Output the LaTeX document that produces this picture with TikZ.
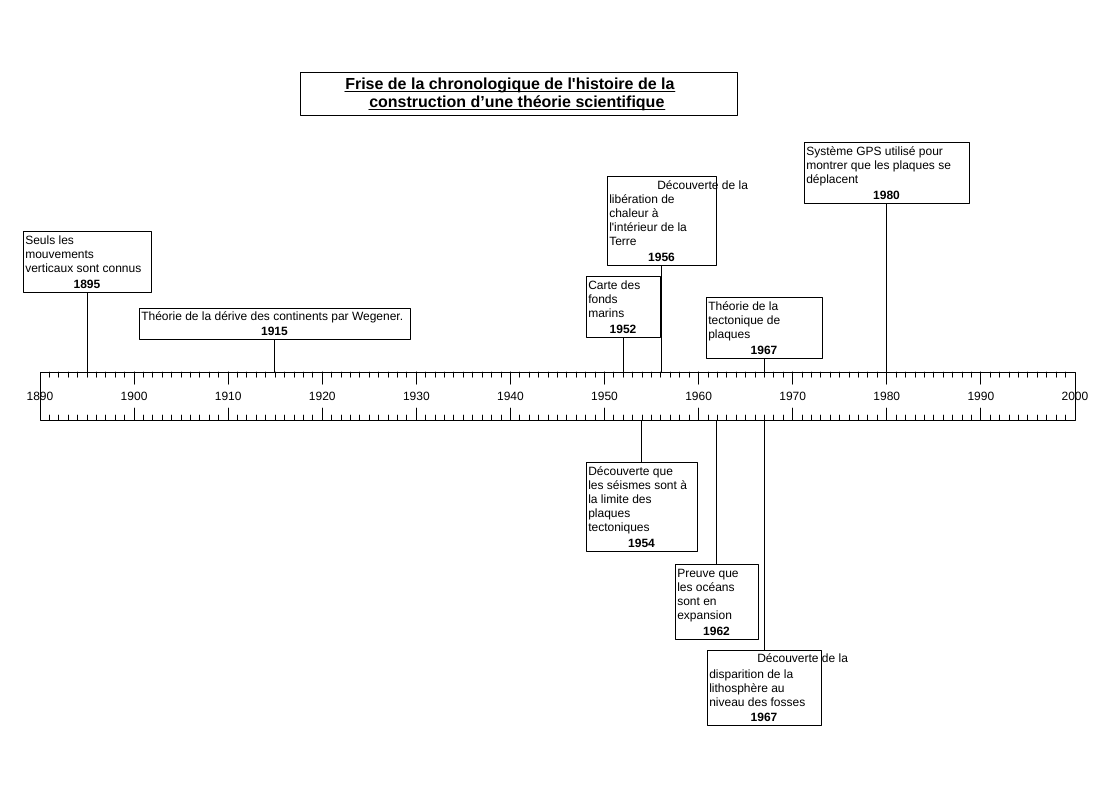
\documentclass[tikz,border=0pt]{standalone}
\usepackage{fontspec}
\setmainfont{Liberation Sans}[Ligatures=TeXOff]
\usetikzlibrary{fit}

\begin{document}
\begin{tikzpicture}[line cap=round,line join=round,x=0.75pt,y=-0.75pt,
  frame/.style={draw,line width=0.75pt,inner sep=0pt},
  evtxt/.style={anchor=north west,align=left,inner sep=0pt,font=\fontsize{9}{10.5}\selectfont},
  yrtxt/.style={inner sep=0pt,font=\fontsize{9}{10.5}\selectfont\bfseries},
  gradtxt/.style={inner sep=0pt,font=\fontsize{9}{10.5}\selectfont},
  ttltxt/.style={anchor=base west,inner sep=0pt,font=\fontsize{12}{14}\selectfont\bfseries},
  grad/.style={line width=0.75pt}]
\useasboundingbox (0,0) rectangle (1115,790);
% titre
\node[frame,fit={(300,72) (737,115)}] (titre) {};
\node[ttltxt] (ttl1) at (345,89.5) {Frise de la chronologique de l'histoire de la};
\node[ttltxt] (ttl2) at (369,107.5) {construction d’une théorie scientifique};
\draw[line width=1.1pt] ([yshift=-1.6pt]ttl1.base west) -- ([yshift=-1.6pt]ttl1.base east);
\draw[line width=1.1pt] ([yshift=-1.6pt]ttl2.base west) -- ([yshift=-1.6pt]ttl2.base east);
% frise
\node[frame,fit={(40,372) (1075,420)}] (axis) {};
\foreach \a in {1891,...,1999}{
  \pgfmathsetmacro\gx{40+(\a-1890)*9.409}
  \draw[grad] (\gx,372) -- (\gx,377) (\gx,420) -- (\gx,415);
}
\foreach \a in {1900,1910,...,1990}{
  \pgfmathsetmacro\gx{40+(\a-1890)*9.409}
  \draw[grad] (\gx,372) -- (\gx,384) (\gx,420) -- (\gx,408);
}
\foreach \a in {1890,1900,...,2000}{
  \pgfmathsetmacro\gx{40+(\a-1890)*9.409}
  \node[gradtxt] (g\a) at (\gx,396) {\a};
}
% evenements au-dessus
\node[frame,fit={(23,231) (151,292)}] (e1895) {};
\node[evtxt] (t1895) at ([shift={(2.5,5)}]e1895.north west) {Seuls les\\mouvements\\verticaux sont connus};
\node[yrtxt] (y1895) at ([yshift=6pt]e1895.south) {1895};
\node[frame,fit={(139,308) (410,339)}] (e1915) {};
\node[evtxt] (t1915) at ([shift={(2.5,4)}]e1915.north west) {Théorie de la dérive des continents par Wegener.};
\node[yrtxt] (y1915) at ([yshift=6pt]e1915.south) {1915};
\node[frame,fit={(586,276) (660,337)}] (e1952) {};
\node[evtxt] (t1952) at ([shift={(2.5,5)}]e1952.north west) {Carte des\\fonds\\marins};
\node[yrtxt] (y1952) at ([yshift=6pt]e1952.south) {1952};
\node[frame,fit={(607,176) (716,265)}] (e1956) {};
\node[evtxt] (t1956) at ([shift={(2.5,5)}]e1956.north west) {\hspace*{36pt}Découverte de la\\[0.25pt]libération de\\chaleur à\\l'intérieur de la\\Terre};
\node[yrtxt] (y1956) at ([yshift=6pt]e1956.south) {1956};
\node[frame,fit={(706,297) (822,358)}] (e1967a) {};
\node[evtxt] (t1967a) at ([shift={(2.5,5)}]e1967a.north west) {Théorie de la\\tectonique de\\plaques};
\node[yrtxt] (y1967a) at ([yshift=6pt]e1967a.south) {1967};
\node[frame,fit={(804,142) (969,203)}] (e1980) {};
\node[evtxt] (t1980) at ([shift={(2.5,5)}]e1980.north west) {Système GPS utilisé pour\\montrer que les plaques se\\déplacent};
\node[yrtxt] (y1980) at ([yshift=6pt]e1980.south) {1980};
% evenements au-dessous
\node[frame,fit={(586,462) (697,551)}] (e1954) {};
\node[evtxt] (t1954) at ([shift={(2.5,5)}]e1954.north west) {Découverte que\\les séismes sont à\\la limite des\\plaques\\tectoniques};
\node[yrtxt] (y1954) at ([yshift=6pt]e1954.south) {1954};
\node[frame,fit={(675,564) (758,639)}] (e1962) {};
\node[evtxt] (t1962) at ([shift={(2.5,5)}]e1962.north west) {Preuve que\\les océans\\sont en\\expansion};
\node[yrtxt] (y1962) at ([yshift=6pt]e1962.south) {1962};
\node[frame,fit={(707,650) (821,725)}] (e1967b) {};
\node[evtxt] (t1967b) at ([shift={(2.5,4)}]e1967b.north west) {\hspace*{36pt}Découverte de la\\[1.5pt]disparition de la\\lithosphère au\\niveau des fosses};
\node[yrtxt] (y1967b) at ([yshift=6pt]e1967b.south) {1967};
% liaisons
\draw[grad] (e1895.south) -- (e1895.south |- axis.north);
\draw[grad] (e1915.south) -- (e1915.south |- axis.north);
\draw[grad] (e1952.south) -- (e1952.south |- axis.north);
\draw[grad] (e1956.south) -- (e1956.south |- axis.north);
\draw[grad] (e1967a.south) -- (e1967a.south |- axis.north);
\draw[grad] (e1980.south) -- (e1980.south |- axis.north);
\draw[grad] (axis.south -| e1954.north) -- (e1954.north);
\draw[grad] (axis.south -| e1962.north) -- (e1962.north);
\draw[grad] (axis.south -| e1967b.north) -- (e1967b.north);
\end{tikzpicture}
\end{document}
